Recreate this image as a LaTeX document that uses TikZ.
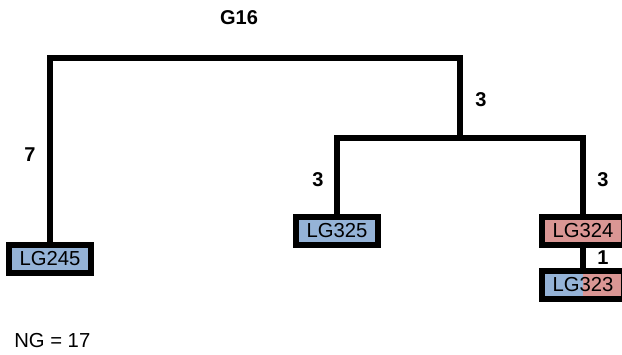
\documentclass[tikz,border=0pt]{standalone}
\usepackage{fontspec}
\setmainfont{Liberation Sans}
\definecolor{leafblue}{HTML}{95B3D7}
\definecolor{leafpink}{HTML}{DA9694}
\begin{document}
\begin{tikzpicture}[x=0.75pt,y=-0.75pt,
  branch/.style={line width=4.5pt,line cap=rect},
  leaf/.style={draw=black,line width=4.5pt,minimum width=61.5pt,minimum height=20.5pt,
    inner sep=0pt,font=\fontsize{15.2}{17}\selectfont},
  blen/.style={font=\bfseries\fontsize{15}{17}\selectfont},
  every node/.style={inner sep=0pt}]
\useasboundingbox (0,0) rectangle (622,354);
\node[blen] (title) at (239,18) {G16};
\coordinate (root) at (50,58);
\coordinate (rootr) at (460,58);
\coordinate (j2) at (460,138);
\coordinate (j2l) at (337,138);
\coordinate (j2r) at (583,138);
\node[leaf,fill=leafblue] (b245) at (50,259) {LG245};
\node[leaf,fill=leafblue] (b325) at (337,231) {LG325};
\node[leaf,fill=leafpink] (b324) at (583,231) {LG324};
\node[leaf,path picture={
   \fill[leafblue] (path picture bounding box.south west) rectangle (path picture bounding box.north);
   \fill[leafpink] (path picture bounding box.south) rectangle (path picture bounding box.north east);}]
   (b323) at (583,285) {LG323};
\draw[branch] (b245.north) -- (root) -- (rootr) -- (j2);
\draw[branch] (b325.north) -- (j2l) -- (j2r) -- (b324.north);
\draw[line width=4.5pt] (b324.south) -- (b323.north);
\node[blen] (l7) at (30,155) {7};
\node[blen] (l3a) at (481,100) {3};
\node[blen] (l3b) at (318,180) {3};
\node[blen] (l3c) at (603,180) {3};
\node[blen] (l1) at (603,258) {1};
\node[anchor=base west,font=\fontsize{15.2}{17}\selectfont] (ng) at (14,347) {NG = 17};
\end{tikzpicture}
\end{document}
